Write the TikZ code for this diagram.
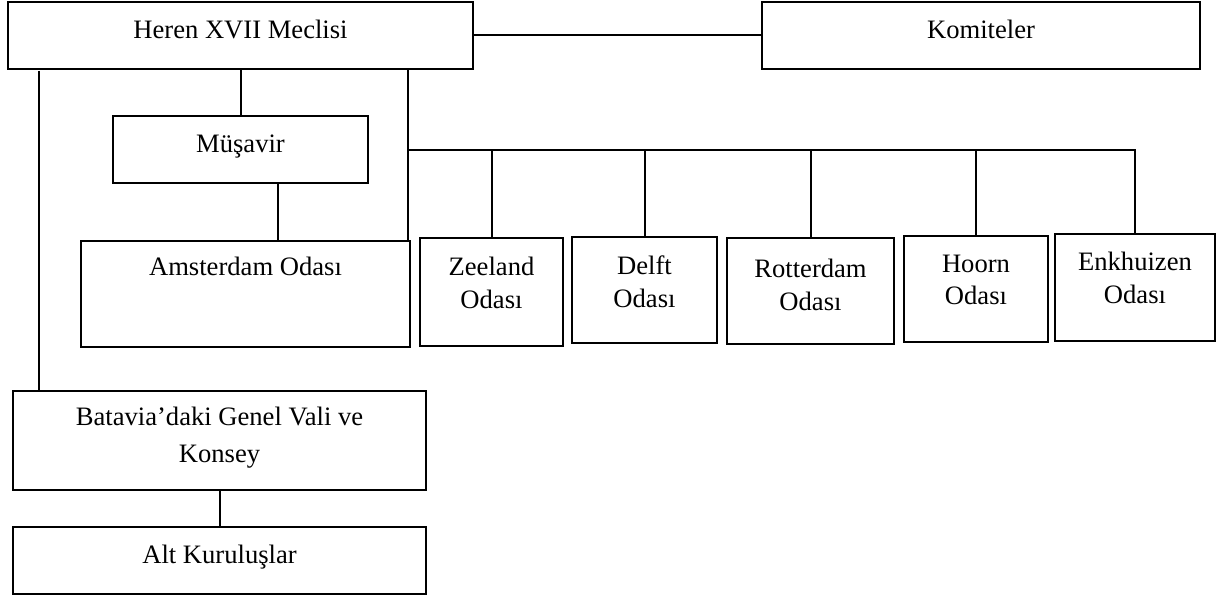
\documentclass[tikz,border=0pt]{standalone}
\usepackage{fontspec}
\setmainfont{Liberation Serif}
\begin{document}
\begin{tikzpicture}[x=0.5pt,y=-0.5pt,
  box/.style={draw, line width=1pt, anchor=north west, inner xsep=0pt, inner ysep=0pt, outer sep=0pt, align=center,
    font=\fontsize{13.3}{16.5}\selectfont},
  bigbox/.style={box, font=\fontsize{13.3}{18.5}\selectfont},
  conn/.style={draw, line width=1pt}]
\useasboundingbox (0,0) rectangle (1217,599);
\node[box, minimum width=232.5pt, text height=18.5pt, text depth=15pt] (heren) at (8,2) {Heren XVII Meclisi};
\node[box, minimum width=219pt, text height=18.5pt, text depth=15pt] (kom) at (762,2) {Komiteler};
\node[box, minimum width=127.5pt, text height=18.5pt, text depth=15pt] (mus) at (113,116) {Müşavir};
\node[box, minimum width=164.5pt, text height=17.5pt, text depth=35.5pt] (ams) at (81,241) {Amsterdam Odası};
\node[box, minimum width=71.5pt, text height=35pt, text depth=19pt] (zee) at (420,238) {Zeeland\\Odası};
\node[box, minimum width=72.5pt, text height=35pt, text depth=18pt] (del) at (572,237) {Delft\\Odası};
\node[box, minimum width=83.5pt, text height=36pt, text depth=17pt] (rot) at (727,238) {Rotterdam\\Odası};
\node[box, minimum width=72pt, text height=34.5pt, text depth=18.5pt] (hoo) at (904,236) {Hoorn\\Odası};
\node[box, minimum width=80pt, text height=34.5pt, text depth=19pt] (enk) at (1055,234) {Enkhuizen\\Odası};
\node[bigbox, minimum width=206.5pt, text height=35.5pt, text depth=14pt] (bat) at (13,391) {Batavia’daki Genel Vali ve\\Konsey};
\node[box, minimum width=206.5pt, text height=18pt, text depth=15.5pt] (alt) at (13,527) {Alt Kuruluşlar};
\coordinate (bj) at (408,150);
\draw[conn] (heren.east) -- (kom.west);
\draw[conn] ([xshift=15.5pt,yshift=-1pt]heren.south west) -- ([xshift=13pt]bat.north west);
\draw[conn] (heren.south) -- (mus.north);
\draw[conn] ([xshift=18.75pt]mus.south) -- ([xshift=18.75pt]mus.south |- ams.north);
\draw[conn] (bj |- heren.south) -- (bj |- ams.north);
\draw[conn] (bj) -- (bj -| enk.north) -- (enk.north);
\draw[conn] (bj -| zee.north) -- (zee.north);
\draw[conn] (bj -| del.north) -- (del.north);
\draw[conn] (bj -| rot.north) -- (rot.north);
\draw[conn] (bj -| hoo.north) -- (hoo.north);
\draw[conn] (bat.south) -- (alt.north);
\end{tikzpicture}
\end{document}
